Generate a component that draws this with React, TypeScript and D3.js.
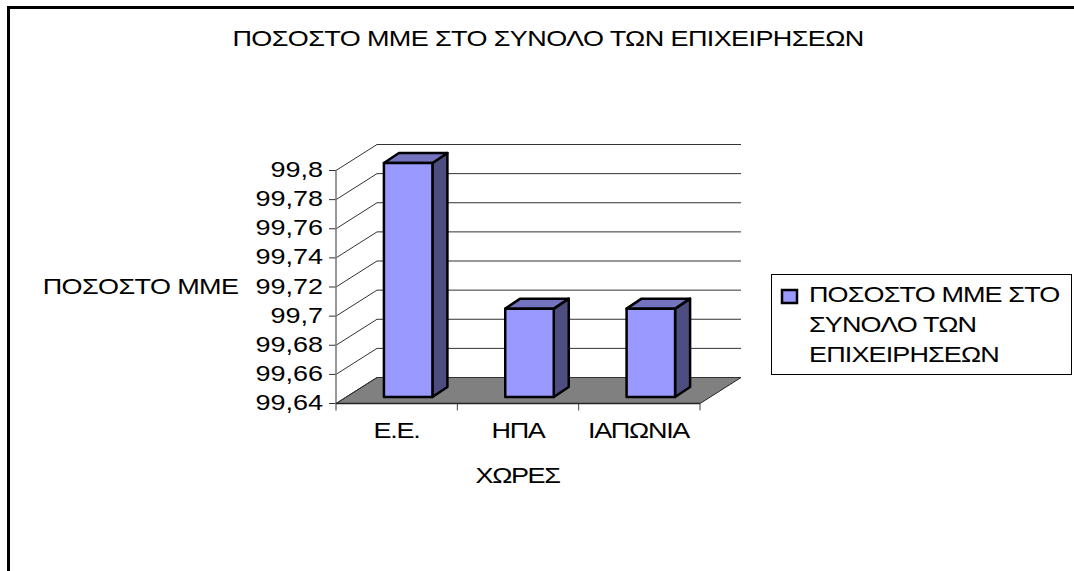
import React from "react";
import * as d3 from "d3";

const categories = ["Ε.Ε.", "ΗΠΑ", "ΙΑΠΩΝΙΑ"];
const seriesValues = [99.8, 99.7, 99.7];
const tickValues = [99.64, 99.66, 99.68, 99.7, 99.72, 99.74, 99.76, 99.78, 99.8];
const titleText = "ΠΟΣΟΣΤΟ ΜΜΕ ΣΤΟ ΣΥΝΟΛΟ ΤΩΝ ΕΠΙΧΕΙΡΗΣΕΩΝ";
const yAxisTitle = "ΠΟΣΟΣΤΟ ΜΜΕ";
const xAxisTitle = "ΧΩΡΕΣ";
const legendLines = ["ΠΟΣΟΣΤΟ ΜΜΕ ΣΤΟ", "ΣΥΝΟΛΟ ΤΩΝ", "ΕΠΙΧΕΙΡΗΣΕΩΝ"];

const W = 1074, H = 571;
const font = "'Liberation Sans', Arial, sans-serif";
const depthX = 41, depthY = 26;
const barDx = 12.5, barDy = 7.5, sideDx = 15, sideDy = 10;

const x = d3.scaleBand<string>().domain(categories).range([336, 700]);
const y = d3.scaleLinear().domain([99.64, 99.8]).range([403.5, 170.5]);
const barW = 48.5;
const fmt = (v: number) => String(+v.toFixed(2)).replace(".", ",");
const poly = (pts: [number, number][]) => pts.map((p) => p.join(",")).join(" ");

const SX = 1.2;
function T({ x: px, y: py, ls = 0, anchor = "start", children }: any) {
  return (
    <text transform={`translate(${px},${py}) scale(${SX},1)`} fontSize={22.5} textAnchor={anchor} letterSpacing={ls / SX}>
      {children}
    </text>
  );
}

export default function App() {
  const y0 = y(99.64);
  const xl = x.range()[0], xr = x.range()[1];
  return (
    <svg width={W} height={H} viewBox={`0 0 ${W} ${H}`} style={{ position: "absolute", left: 0, top: 0, background: "#fff" }} fontFamily={font} fill="#000">
      <path d={`M8.5 ${H}V7.5H${W}`} fill="none" stroke="#000" strokeWidth={3} />
      <T x={548} y={46} ls={-0.6} anchor="middle">{titleText}</T>

      {/* floor */}
      <polygon points={poly([[xl, y0], [xl + depthX, y0 - depthY], [xr + depthX, y0 - depthY], [xr, y0]])} fill="#808080" stroke="#222" strokeWidth={1} />
      {/* grid */}
      {tickValues.map((t) => (
        <polyline key={t} points={poly([[xl - 7, y(t)], [xl, y(t)], [xl + depthX, y(t) - depthY], [xr + depthX, y(t) - depthY]])} fill="none" stroke="#333" strokeWidth={1} />
      ))}
      {/* axes */}
      <line x1={xl} x2={xl} y1={y(99.8)} y2={y0 + 7} stroke="#777" strokeWidth={1.5} />
      <line x1={xl} x2={xr} y1={y0} y2={y0} stroke="#222" strokeWidth={1.5} />
      {categories.map((c) => (x(c) as number) + x.bandwidth()).map((px) => (
        <line key={px} x1={px} x2={px} y1={y0} y2={y0 + 7} stroke="#444" />
      ))}
      {/* bars */}
      {categories.map((c, i) => {
        const bx = (x(c) as number) + (x.bandwidth() - barW) / 2 + barDx - 1;
        const top = y(seriesValues[i]) - barDy;
        const bot = y0 - barDy + 1;
        return (
          <g key={c} stroke="#000" strokeWidth={2.5} strokeLinejoin="round">
            <polygon points={poly([[bx + barW, top], [bx + barW + sideDx, top - sideDy], [bx + barW + sideDx, bot - sideDy], [bx + barW, bot]])} fill="#4d4d80" />
            <polygon points={poly([[bx, top], [bx + sideDx, top - sideDy], [bx + barW + sideDx, top - sideDy], [bx + barW, top]])} fill="#7373bf" />
            <rect x={bx} y={top} width={barW} height={bot - top} fill="#9999ff" />
          </g>
        );
      })}
      {/* tick labels */}
      {tickValues.map((t) => (
        <T key={t} x={323} y={y(t) + 6.5} anchor="end">{fmt(t)}</T>
      ))}
      {categories.map((c, i) => (
        <T key={c} x={[396.5, 518, 638.5][i]} y={438} ls={-1.3} anchor="middle">{c}</T>
      ))}
      <T x={140.5} y={293.5} ls={-0.6} anchor="middle">{yAxisTitle}</T>
      <T x={517.5} y={483} ls={-1.4} anchor="middle">{xAxisTitle}</T>

      {/* legend */}
      <rect x={771.5} y={274.5} width={300} height={100} fill="#fff" stroke="#000" strokeWidth={1} />
      <rect x={782} y={290} width={15} height={13} fill="#9999ff" stroke="#000" strokeWidth={2.5} />
      {legendLines.map((l, i) => (
        <T key={l} x={809} y={302 + i * 30} ls={-0.87}>{l}</T>
      ))}
    </svg>
  );
}
